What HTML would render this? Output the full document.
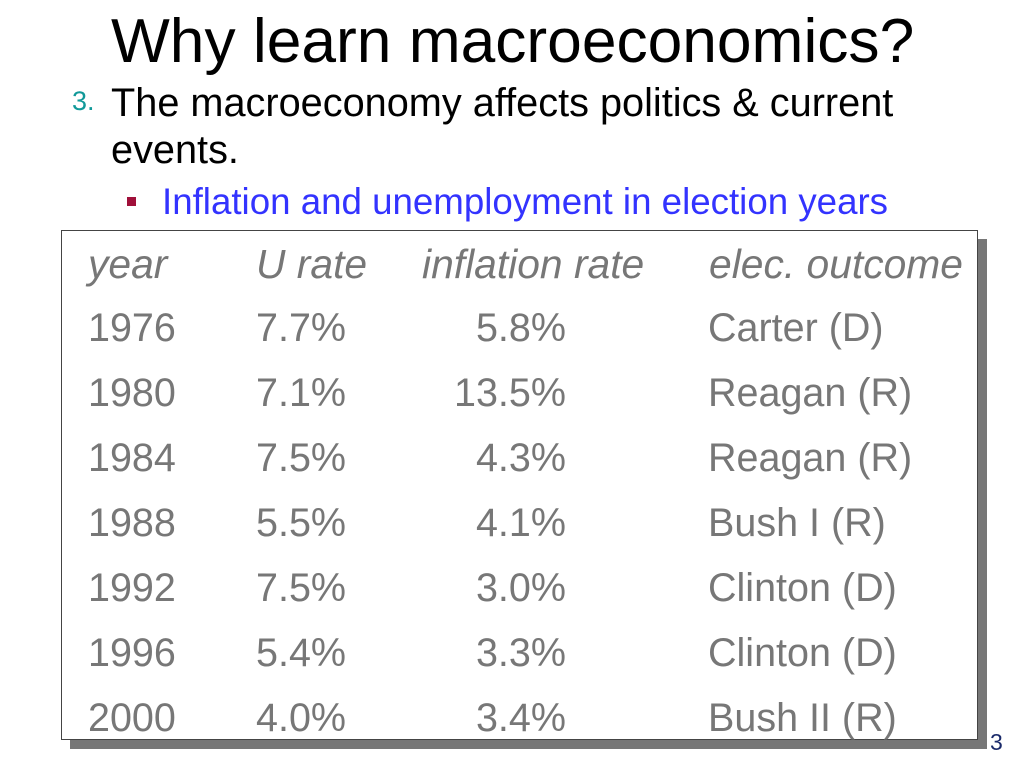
<!DOCTYPE html>
<html><head><meta charset="utf-8"><style>
body{margin:0;width:1024px;height:768px;background:#fff;position:relative;overflow:hidden;font-family:"Liberation Sans",sans-serif}
.a{position:absolute;white-space:nowrap;line-height:1}
.c{color:#777;font-size:39.5px}
.h{font-style:italic;font-size:40.8px}
.r{text-align:right;width:200px}
</style></head><body>
<div class="a" style="left:111px;top:11px;font-size:62.3px;color:#000">Why learn macroeconomics?</div>
<div class="a" style="left:72px;top:88px;font-size:27px;color:#119999">3.</div>
<div class="a" style="left:111px;top:80px;font-size:39.7px;color:#000;line-height:47px;white-space:normal;width:880px">The macroeconomy affects politics &amp; current<br>events.</div>
<div class="a" style="left:127px;top:197px;width:9px;height:9px;background:#a0103a"></div>
<div class="a" style="left:162px;top:184px;font-size:36.7px;color:#3333ff">Inflation and unemployment in election years</div>
<div class="a" style="left:70px;top:239px;width:917px;height:510px;background:#777"></div>
<div class="a" style="left:61px;top:230px;width:915px;height:508px;background:#fff;border:1px solid #444"></div>
<div id="t"></div>
<div class="a" style="left:990px;top:731px;font-size:23px;color:#1a2a6a">3</div>
<script>
const years=["1976","1980","1984","1988","1992","1996","2000"];
const urates=["7.7%","7.1%","7.5%","5.5%","7.5%","5.4%","4.0%"];
const infl=["5.8%","13.5%","4.3%","4.1%","3.0%","3.3%","3.4%"];
const outcomes=["Carter (D)","Reagan (R)","Reagan (R)","Bush I (R)","Clinton (D)","Clinton (D)","Bush II (R)"];
const t=document.getElementById('t');
function cell(txt,x,top,cls,name){const d=document.createElement('div');d.className='a c '+cls;d.style.left=x+'px';d.style.top=top+'px';d.textContent=txt;


t.appendChild(d);}
cell('year',88,244,'h','header-year');
cell('U rate',256,244,'h','header-u-rate');
cell('inflation rate',422,244,'h','header-inflation');
cell('elec. outcome',709,244,'h','header-outcome');
years.forEach((y,i)=>{const top=309+i*65;
cell(y,88,top,'','year-cell');
cell(urates[i],256,top,'','u-rate-cell');
cell(infl[i],366,top,'r','inflation-cell');
cell(outcomes[i],708,top,'','outcome-cell');});
</script>
</body></html>
